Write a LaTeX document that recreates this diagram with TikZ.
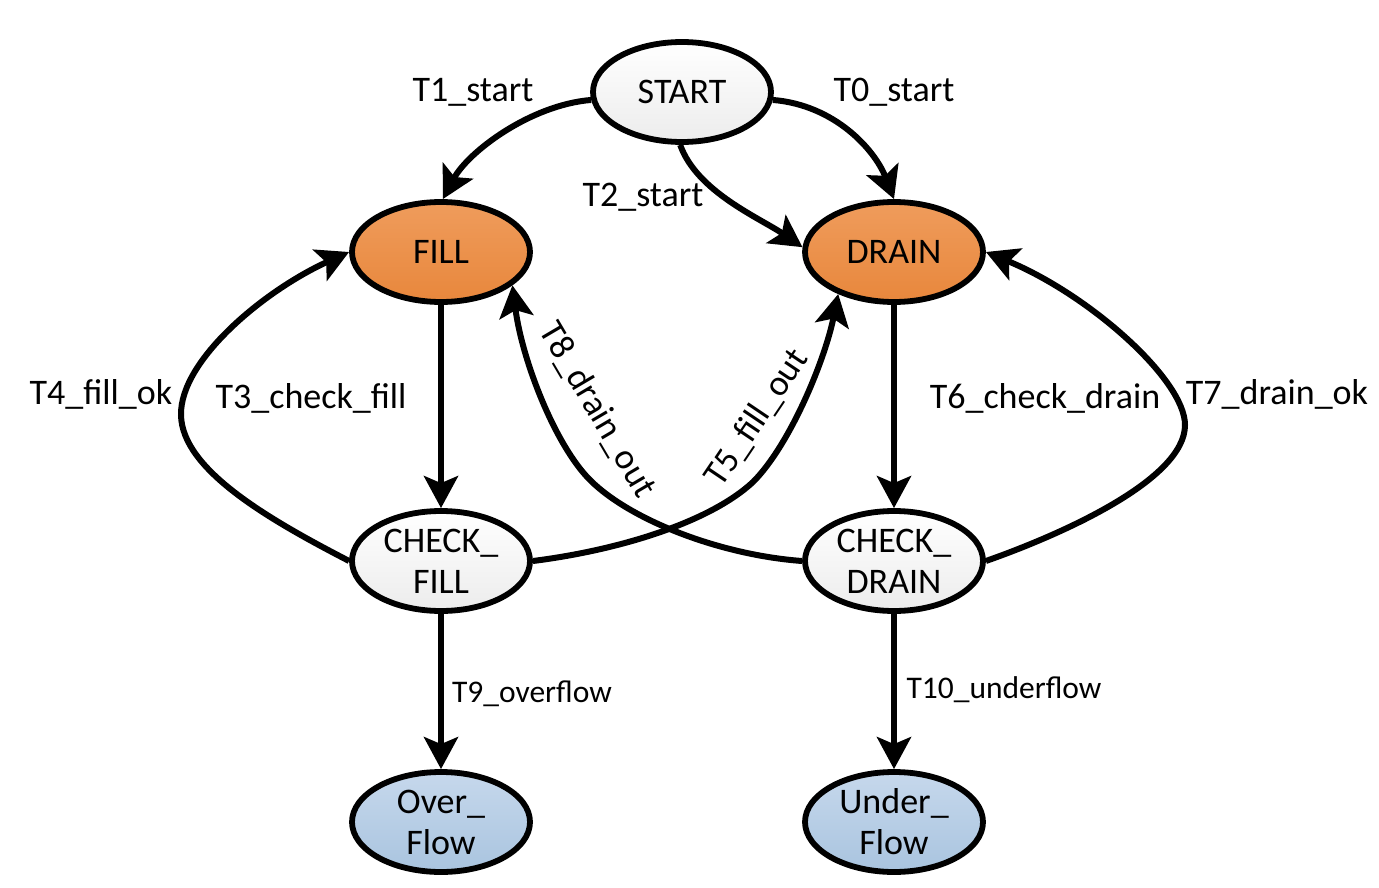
\documentclass[tikz,border=0pt]{standalone}
\usepackage{fontspec}
\setmainfont{Carlito}
\usetikzlibrary{shapes.geometric,arrows.meta}
\definecolor{or1}{HTML}{EF9C5C}
\definecolor{or2}{HTML}{E8873C}
\definecolor{bl1}{HTML}{C6D8EC}
\definecolor{bl2}{HTML}{A9C4DF}
\definecolor{gr2}{HTML}{ECECEC}
\begin{document}
\begin{tikzpicture}[x=1pt,y=-1pt,
  st/.style={ellipse,draw=black,line width=5.8pt,minimum width=178pt,minimum height=100pt,inner sep=0pt,align=center,font=\fontsize{36}{41}\selectfont},
  greyst/.style={st,top color=white,bottom color=gr2},
  orangest/.style={st,top color=or1,bottom color=or2},
  bluest/.style={st,top color=bl1,bottom color=bl2},
  edge/.style={line width=6pt,-{Stealth[length=32pt,width=34pt,inset=7pt]}},
  lbl/.style={font=\fontsize{36}{41}\selectfont,inner sep=0pt},
  slbl/.style={font=\fontsize{31.5}{36}\selectfont,inner sep=0pt}]
\useasboundingbox (0,0) rectangle (1379,888);

\node[greyst] (start) at (682,92) {START};
\node[orangest] (fill) at (441,252) {FILL};
\node[orangest] (drain) at (894,252) {DRAIN};
\node[greyst] (checkfill) at (441,561) {CHECK\_\\FILL};
\node[greyst] (checkdrain) at (894,561) {CHECK\_\\DRAIN};
\node[bluest] (over) at (441,822) {Over\_\\Flow};
\node[bluest] (under) at (894,822) {Under\_\\Flow};

\draw[edge] (start.185) .. controls (530,105) and (468,152) .. (fill.88);
\draw[edge] (start.-5) .. controls (835,105) and (875,150) .. (drain.north);
\draw[edge] (start.268) .. controls (697,192) and (760,218) .. (drain.177);
\draw[edge] (fill.south) -- (checkfill.north);
\draw[edge] (drain.south) -- (checkdrain.north);
\draw[edge] (checkfill.west) .. controls (270,520) and (182,470) .. (181,415)
  .. controls (180,360) and (265,290) .. (fill.west);
\draw[edge] (checkdrain.east) .. controls (1060,535) and (1185,480) .. (1185,425)
  .. controls (1185,380) and (1090,295) .. (drain.east);
\draw[edge] (checkfill.east) .. controls (620,550) and (710,522) .. (753,482)
  .. controls (790,445) and (825,360) .. (drain.217);
\draw[edge] (checkdrain.west) .. controls (720,555) and (630,520) .. (590,480)
  .. controls (555,445) and (522,360) .. (fill.-25);
\draw[edge] (checkfill.south) -- (over.north);
\draw[edge] (checkdrain.south) -- (under.north);

\node[lbl] (l1) at (473,92) {T1\_start};
\node[lbl] (l0) at (894,92) {T0\_start};
\node[lbl] (l2) at (643,197) {T2\_start};
\node[lbl] (l3) at (311,398) {T3\_check\_fill};
\node[lbl] (l4) at (101,394) {T4\_fill\_ok};
\node[lbl] (l6) at (1045,398) {T6\_check\_drain};
\node[lbl] (l7) at (1277,394) {T7\_drain\_ok};
\node[lbl,rotate=-59.5] (l8) at (597,410) {T8\_drain\_out};
\node[lbl,rotate=56] (l5) at (757,418) {T5\_fill\_out};
\node[slbl] (l9) at (532,694) {T9\_overflow};
\node[slbl] (l10) at (1004,690) {T10\_underflow};
\end{tikzpicture}
\end{document}
